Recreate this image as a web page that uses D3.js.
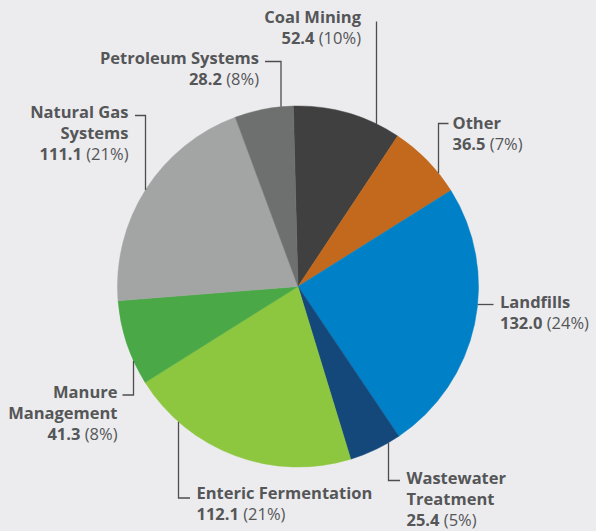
<!DOCTYPE html>
<html><head><meta charset="utf-8">
<script src="https://cdn.jsdelivr.net/npm/d3@7"></script>
<style>
html,body{margin:0;padding:0;background:#ececee;}
svg{display:block;}
text{font-family:"Open Sans","Noto Sans",sans-serif;fill:#555658;}
</style></head>
<body>
<svg id="c" width="596" height="531"></svg>
<script>
// Data
const categories = ["Coal Mining","Other","Landfills","Wastewater Treatment","Enteric Fermentation","Manure Management","Natural Gas Systems","Petroleum Systems"];
const values = [52.4, 36.5, 132.0, 25.4, 112.1, 41.3, 111.1, 28.2];
const percentLabels = ["10%","7%","24%","5%","21%","8%","21%","8%"];
const valueLabels = ["52.4","36.5","132.0","25.4","112.1","41.3","111.1","28.2"];
const nameLines = [["Coal Mining"],["Other"],["Landfills"],["Wastewater","Treatment"],["Enteric Fermentation"],["Manure","Management"],["Natural Gas","Systems"],["Petroleum Systems"]];
const colors = ["#404040","#c2691d","#0080c6","#14477a","#8dc63f","#4ba847","#a3a5a4","#6e706f"];

// Layout
const cx = 298, cy = 286.5, R = 180.5;
const lineH = 21;
const fontSize = 16.5;
const labelLayout = [
  {x:361, y:22.5, anchor:"end", leader:{type:"v", x:376.5, y0:21.5}},
  {x:452.5, y:128.5, anchor:"start", leader:{type:"hv", x:438.5, y:123.5, x1:448.5}},
  {x:500, y:307.5, anchor:"start", leader:{type:"h", y:304.5, x1:493.5}},
  {x:406.5, y:483.5, anchor:"start", leader:{type:"vh", x:388.5, y:480.5, x1:400}},
  {x:196.5, y:499, anchor:"start", leader:{type:"vh", x:178.5, y:498, x1:190}},
  {x:117.5, y:397.5, anchor:"end", leader:{type:"hv", x:133.5, y:395, x1:122.5}},
  {x:128.5, y:117.5, anchor:"end", leader:{type:"hv", x:145.5, y:115.5, x1:135}},
  {x:259, y:64, anchor:"end", leader:{type:"hv", x:281, y:61.5, x1:265}}
];

const svg = d3.select("#c");
const g = svg.append("g").attr("transform",`translate(${cx},${cy})`);
const pie = d3.pie().sort(null).value(d=>d).startAngle(-0.026).endAngle(2*Math.PI-0.026);
const arcs = pie(values);
const arc = d3.arc().innerRadius(0).outerRadius(R);
g.selectAll("path").data(arcs).enter().append("path")
  .attr("d", arc).attr("fill",(d,i)=>colors[i])
  .attr("stroke",(d,i)=>colors[i]).attr("stroke-width",0.5);

function yOnCircle(x, top){ const dx = x-cx; const dy = Math.sqrt(Math.max(0,R*R-dx*dx)); return top? cy-dy : cy+dy; }
function xOnCircle(y, right){ const dy = y-cy; const dx = Math.sqrt(Math.max(0,R*R-dy*dy)); return right? cx+dx : cx-dx; }

const lg = svg.append("g").attr("fill","none").attr("stroke","#4d4d4f").attr("stroke-width",1.3);
labelLayout.forEach((L,i)=>{
  const ld = L.leader;
  let pts;
  if(ld.type==="v"){ pts=[[ld.x,ld.y0],[ld.x,yOnCircle(ld.x,true)]]; }
  else if(ld.type==="hv"){ pts=[[ld.x1,ld.y],[ld.x,ld.y],[ld.x,yOnCircle(ld.x,ld.y<cy)]]; }
  else if(ld.type==="vh"){ pts=[[ld.x,yOnCircle(ld.x,false)],[ld.x,ld.y],[ld.x1,ld.y]]; }
  else if(ld.type==="h"){ pts=[[xOnCircle(ld.y,true),ld.y],[ld.x1,ld.y]]; }
  lg.append("path").attr("d", d3.line()(pts));

  const t = svg.append("text").attr("text-anchor",L.anchor).attr("font-size",fontSize);
  nameLines[i].forEach((s,k)=>{
    t.append("tspan").attr("x",L.x).attr("y",L.y+k*lineH).attr("font-weight",700).text(s);
  });
  const k = nameLines[i].length;
  const vt = t.append("tspan").attr("x",L.x).attr("y",L.y+k*lineH);
  vt.append("tspan").attr("font-weight",700).text(valueLabels[i]);
  vt.append("tspan").attr("font-weight",400).text(" ("+percentLabels[i]+")");
});
</script>
</body></html>
